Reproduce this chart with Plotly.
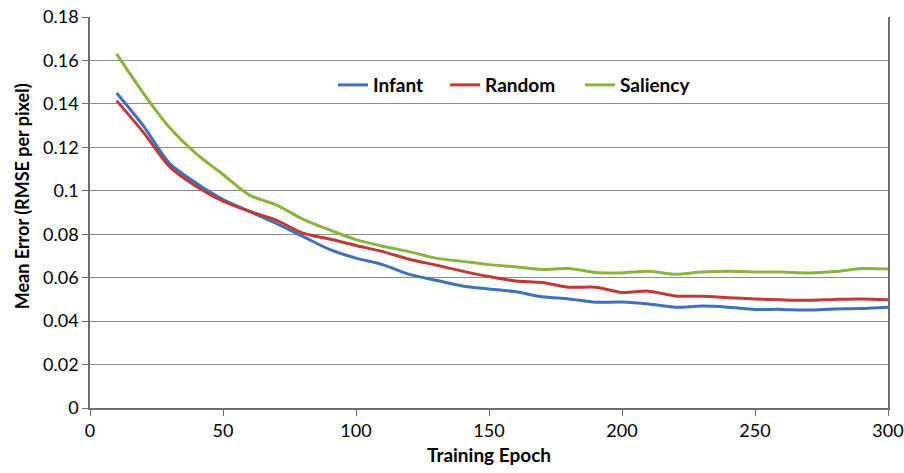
import plotly.graph_objects as go

epochs = list(range(10, 301, 10))
infant = [0.145, 0.130, 0.1125, 0.1035, 0.096, 0.0905, 0.085, 0.079, 0.073, 0.069,
          0.066, 0.0615, 0.0588, 0.0562, 0.0548, 0.0535, 0.0512, 0.0502, 0.0487, 0.0488,
          0.0479, 0.0464, 0.0469, 0.0464, 0.0454, 0.0454, 0.0451, 0.0456, 0.0458, 0.0464]
random_ = [0.1415, 0.127, 0.111, 0.102, 0.0952, 0.0905, 0.0865, 0.0805, 0.0778, 0.0748,
           0.0720, 0.0685, 0.0658, 0.0630, 0.0605, 0.0585, 0.0578, 0.0556, 0.0556, 0.0532,
           0.0538, 0.0516, 0.0514, 0.0508, 0.0502, 0.0498, 0.0496, 0.0500, 0.0502, 0.0498]
saliency = [0.163, 0.145, 0.129, 0.117, 0.1075, 0.098, 0.0935, 0.087, 0.082, 0.0775,
            0.0745, 0.0720, 0.0690, 0.0675, 0.0660, 0.0650, 0.0638, 0.0642, 0.0624, 0.0622,
            0.0630, 0.0616, 0.0626, 0.0630, 0.0626, 0.0626, 0.0622, 0.0628, 0.0642, 0.0640]
x_ticks = [0, 50, 100, 150, 200, 250, 300]
y_ticks = [0, 0.02, 0.04, 0.06, 0.08, 0.1, 0.12, 0.14, 0.16, 0.18]
y_tick_labels = ["0", "0.02", "0.04", "0.06", "0.08", "0.1", "0.12", "0.14", "0.16", "0.18"]

series = [("Infant", infant, "#3F72B8", "legend", 0.3045),
          ("Random", random_, "#BE3A36", "legend2", 0.445),
          ("Saliency", saliency, "#8DB33F", "legend3", 0.614)]

font = "Lato, 'Open Sans', sans-serif"
fig = go.Figure()
legends = {}
for name, vals, col, leg, lx in series:
    fig.add_trace(go.Scatter(x=epochs, y=vals, name=name, mode="lines", legend=leg,
                             line=dict(color=col, width=3, shape="spline", smoothing=0.8)))
    legends[leg] = dict(orientation="h", x=lx, y=0.826, xanchor="left", yanchor="middle",
                        font=dict(size=19, family=font, weight="bold"),
                        bgcolor="rgba(0,0,0,0)")

fig.update_layout(
    width=904, height=473,
    margin=dict(l=90, r=16, t=17, b=65),
    paper_bgcolor="white", plot_bgcolor="white",
    font=dict(family=font, size=18, color="black"),
    showlegend=True,
    annotations=[dict(text="<b>Mean Error (RMSE per pixel)</b>", textangle=-90,
                      xref="paper", yref="paper", x=-0.085, y=0.542,
                      xanchor="center", yanchor="middle", showarrow=False,
                      font=dict(size=18, family=font))],
    **legends,
)
fig.update_xaxes(range=[0, 300], tickvals=x_ticks, automargin=False,
                 showgrid=False, showline=True, linecolor="#6e6e6e", linewidth=1.5,
                 ticks="outside", ticklen=6, tickcolor="#6e6e6e", zeroline=False,
                 title=dict(text="<b>Training Epoch</b>", font=dict(size=19), standoff=8),
                 tickfont=dict(size=18))
fig.update_yaxes(range=[0, 0.18], tickvals=y_ticks, ticktext=y_tick_labels, automargin=False,
                 showgrid=True, gridcolor="#8c8c8c", gridwidth=1,
                 showline=True, mirror=True, linecolor="#6e6e6e", linewidth=1.5,
                 ticks="outside", ticklen=6, tickcolor="#6e6e6e", zeroline=False,
                 tickfont=dict(size=18))

fig.write_html("out.html", config={"displayModeBar": False},
               post_script="document.body.style.margin='0';document.body.style.overflow='hidden';")
